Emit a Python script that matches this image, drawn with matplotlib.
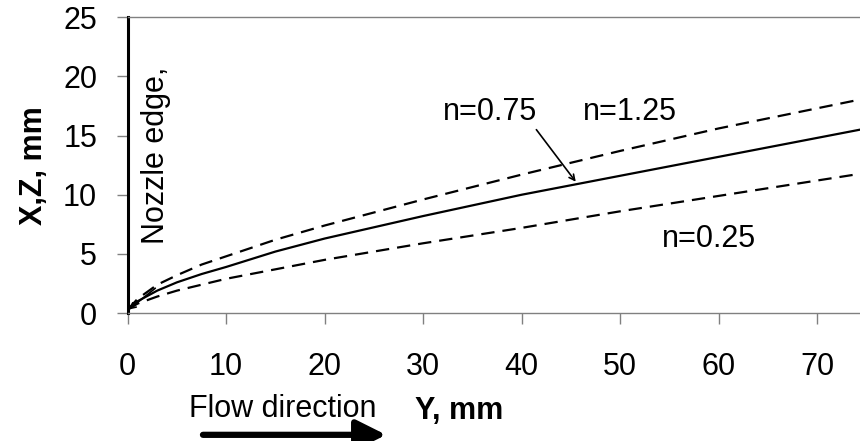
import matplotlib
matplotlib.use("Agg")
import matplotlib.pyplot as plt

plt.rcParams['font.family'] = ['Liberation Sans', 'DejaVu Sans']

# Distance along the flow, mm
y_dist = [0, 1, 3, 5, 7.5, 10, 15, 20, 30, 40, 50, 60, 70, 80]
# Jet boundary for each power-law index n, mm
xz_n075 = [0.3, 1.0, 1.9, 2.6, 3.3, 3.9, 5.2, 6.3, 8.2, 10.0, 11.6, 13.2, 14.8, 16.4]
xz_n125 = [0.3, 1.2, 2.4, 3.2, 4.1, 4.8, 6.2, 7.4, 9.6, 11.7, 13.7, 15.6, 17.3, 19.0]
xz_n025 = [0.3, 0.8, 1.4, 1.9, 2.4, 2.9, 3.7, 4.5, 5.9, 7.2, 8.6, 9.9, 11.2, 12.5]

x_ticks = [0, 10, 20, 30, 40, 50, 60, 70]
y_ticks = [0, 5, 10, 15, 20, 25]

fig = plt.figure(figsize=(8.6, 4.41), dpi=100)
ax = fig.add_axes([0.1485, 0.290, 0.916, 0.671])

fs = 22
dash = (0, (6, 3.6))
ax.plot(y_dist, xz_n075, color='black', lw=1.6, solid_capstyle='butt')
ax.plot(y_dist, xz_n125, color='black', lw=1.6, linestyle=dash)
ax.plot(y_dist, xz_n025, color='black', lw=1.6, linestyle=dash)

ax.set_xlim(0, 80)
ax.set_ylim(0, 25)
ax.set_xticks(x_ticks)
ax.set_yticks(y_ticks)
ax.tick_params(axis='both', direction='out', length=8, width=1, color='#808080',
               labelsize=fs)
ax.tick_params(axis='x', pad=20)
ax.tick_params(axis='y', pad=14)

for side in ('top', 'bottom', 'right'):
    ax.spines[side].set_color('#808080')
    ax.spines[side].set_linewidth(1)
ax.spines['left'].set_color('black')
ax.spines['left'].set_linewidth(2.2)

# Axis titles
fig.text(0.039, 0.624, 'X,Z, mm', rotation=90, fontsize=fs, fontweight='bold',
         ha='center', va='center')
fig.text(0.482, 0.068, 'Y, mm', fontsize=fs, fontweight='bold',
         ha='left', va='center')

# Flow direction note with arrow
fig.text(0.3285, 0.072, 'Flow direction', fontsize=fs, ha='center', va='center')
fig.add_artist(matplotlib.patches.FancyArrowPatch(
    (0.236, 0.014), (0.449, 0.014), transform=fig.transFigure,
    arrowstyle='-|>,head_length=0.9,head_width=0.45', mutation_scale=20,
    lw=4.5, color='black', shrinkA=0, shrinkB=0))

# Curve labels
ax.text(1.3, 13.3, 'Nozzle edge,', rotation=90, fontsize=fs, ha='left', va='center')
ax.text(32.0, 17.0, 'n=0.75', fontsize=fs, ha='left', va='center')
ax.text(46.2, 17.0, 'n=1.25', fontsize=fs, ha='left', va='center')
ax.text(54.3, 6.3, 'n=0.25', fontsize=fs, ha='left', va='center')

ax.annotate('', xy=(45.5, 11.1), xytext=(41.5, 15.5),
            arrowprops=dict(arrowstyle='->', color='black', lw=1.2,
                            shrinkA=0, shrinkB=0))
ax.annotate('', xy=(0.1, 0.3), xytext=(2.8, 2.1),
            arrowprops=dict(arrowstyle='->', color='black', lw=1.2,
                            shrinkA=0, shrinkB=0))

fig.savefig('out.png', dpi=100)
